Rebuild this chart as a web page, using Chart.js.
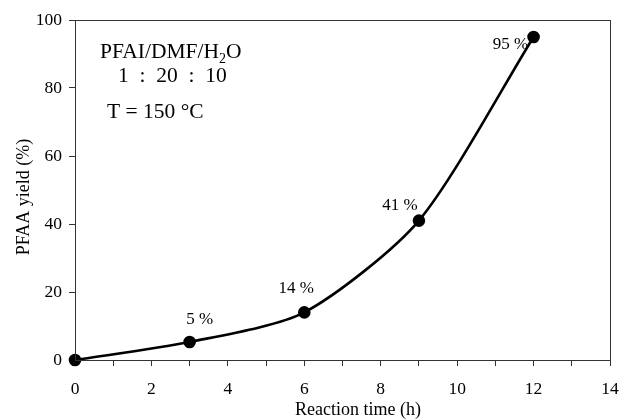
<!DOCTYPE html>
<html><head><meta charset="utf-8">
<script src="https://cdn.jsdelivr.net/npm/chart.js@4"></script>
<style>html,body{margin:0;padding:0;background:#fff}#wrap{width:619px;height:420px}</style>
</head><body><div id="wrap"><canvas id="c" width="619" height="420"></canvas></div>
<script>
const times = [0, 3, 6, 9, 12];
const yields = [0, 5.3, 14, 41, 95];
const pointLabels = ['', '5 %', '14 %', '41 %', '95 %'];
const xTicks = [0, 2, 4, 6, 8, 10, 12, 14];
const yTicks = [0, 20, 40, 60, 80, 100];
const xTitle = 'Reaction time (h)';
const yTitle = 'PFAA yield (%)';

const FONT = '"Liberation Serif", "Times New Roman", serif';

const labelOffsets = [[0,0],[10,-18],[-8,-19],[-19,-11],[-23,12]];

const overlay = {
  id: 'overlay',
  afterDraw(chart) {
    const ctx = chart.ctx, a = chart.chartArea;
    ctx.save();
    ctx.strokeStyle = '#333'; ctx.lineWidth = 1;
    ctx.strokeRect(a.left + 0.5, a.top + 0.5, a.right - a.left, a.bottom - a.top);
    ctx.fillStyle = '#000';
    ctx.textBaseline = 'alphabetic';
    ctx.textAlign = 'left';
    ctx.font = '21.5px ' + FONT;
    ctx.fillText('PFAI/DMF/H', 100, 58);
    let w = ctx.measureText('PFAI/DMF/H').width;
    ctx.font = '14px ' + FONT;
    ctx.fillText('2', 100 + w, 63);
    let w2 = ctx.measureText('2').width;
    ctx.font = '21.5px ' + FONT;
    ctx.fillText('O', 100 + w + w2, 58);
    ctx.fillText('1  :  20  :  10', 118, 82);
    ctx.fillText('T = 150 \u00B0C', 107, 118);
    // axis titles
    ctx.font = '18px ' + FONT;
    ctx.textAlign = 'center';
    ctx.fillText(xTitle, 358, 415);
    ctx.save();
    ctx.translate(29, 197);
    ctx.rotate(-Math.PI / 2);
    ctx.fillText(yTitle, 0, 0);
    ctx.restore();
    // point labels
    ctx.font = '17px ' + FONT;
    const meta = chart.getDatasetMeta(0);
    meta.data.forEach((pt, i) => {
      if (!pointLabels[i]) return;
      ctx.fillText(pointLabels[i], pt.x + labelOffsets[i][0], pt.y + labelOffsets[i][1]);
    });
    ctx.restore();
  }
};

new Chart(document.getElementById('c'), {
  type: 'scatter',
  data: {
    datasets: [{
      data: times.map((t, i) => ({x: t, y: yields[i]})),
      showLine: true,
      borderColor: '#000',
      borderWidth: 2.6,
      backgroundColor: '#000',
      pointRadius: 5,
      pointHoverRadius: 5,
      tension: 0.25,
      clip: false
    }]
  },
  options: {
    responsive: false,
    animation: false,
    events: [],
    layout: { padding: { left: 0, right: 9, top: 20, bottom: 0 } },
    plugins: { legend: { display: false }, tooltip: { enabled: false } },
    scales: {
      x: {
        type: 'linear', min: 0, max: 14,
        afterFit(s) { s.height = 60; s.paddingLeft = 0; s.paddingRight = 0; },
        afterBuildTicks(s) { s.ticks = []; for (let v = 0; v <= 14; v++) s.ticks.push({value: v}); },
        ticks: {
          autoSkip: false, maxRotation: 0, padding: 13,
          color: '#000', font: { family: FONT, size: 17.5 },
          callback: v => xTicks.includes(v) ? String(v) : ''
        },
        grid: { drawOnChartArea: false, drawTicks: true, tickLength: 6, color: '#333', tickWidth: 1 },
        border: { display: true, color: '#333', width: 1 },
        title: { display: false }
      },
      y: {
        type: 'linear', min: 0, max: 100,
        afterFit(s) { s.width = 75; s.paddingTop = 0; s.paddingBottom = 0; },
        afterBuildTicks(s) { s.ticks = yTicks.map(v => ({value: v})); },
        ticks: { color: '#000', font: { family: FONT, size: 17.5 }, padding: 7 },
        grid: { drawOnChartArea: false, drawTicks: true, tickLength: 6, color: '#333' },
        border: { display: true, color: '#333', width: 1 },
        title: { display: false }
      }
    }
  },
  plugins: [overlay]
});
</script>
</body></html>
